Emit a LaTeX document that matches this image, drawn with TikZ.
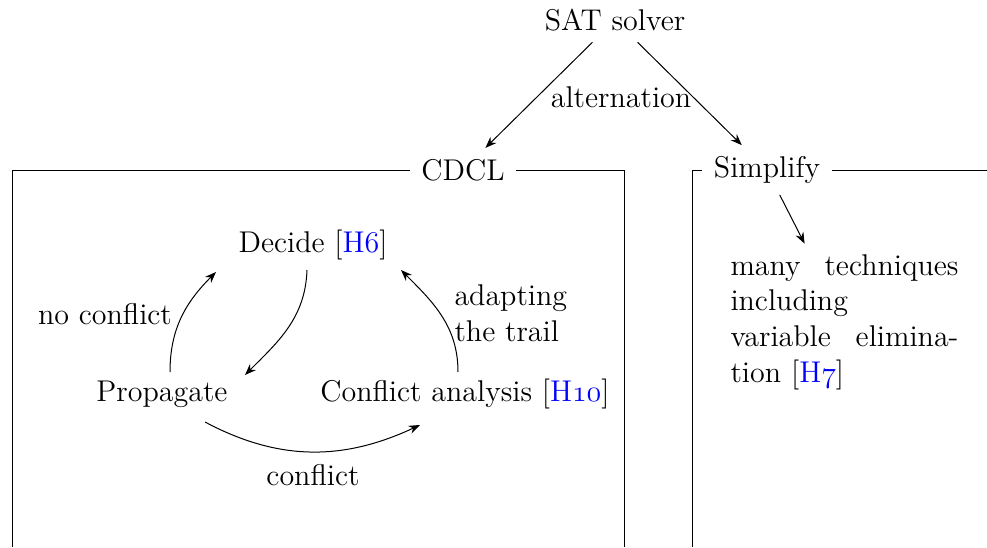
\documentclass[tikz,border=0pt]{standalone}
\usetikzlibrary{arrows.meta,calc}
\newcommand{\hr}[1]{\textcolor{blue}{H$\mathnormal{#1}$}}
\begin{document}
\begin{tikzpicture}[x=0.4pt,y=0.4pt,
  every node/.style={font=\fontsize{12}{14.3}\selectfont, inner sep=0pt},
  ttl/.style={inner xsep=4.5pt, inner ysep=4.3pt},
  txt/.style={inner sep=3pt},
  arr/.style={-{Stealth[length=4.5pt,width=3.4pt]}, thin},
  frame/.style={thin}]
\useasboundingbox (0,0) rectangle (987,-547);
% titles
\node[ttl] (sat) at (615,-20) {SAT solver};
\node[ttl] (cdcl) at (463,-170) {CDCL};
\node[ttl] (simp) at (767,-170) {Simplify};
% frames
\draw[frame] (cdcl.west) -- (12,-170) -- (12,-547);
\draw[frame] (cdcl.east) -- (624,-170) -- (624,-547);
\draw[frame] (simp.west) -- (692,-170) -- (692,-547);
\draw[frame] (simp.east) -- (987,-170);
% top arrows
\draw[arr] (sat) -- (cdcl);
\draw[arr] (sat) -- (simp);
\node (alt) at (621,-97) {alternation};
% simplify content
\node[inner sep=4pt, text width=91.2pt, align=left, anchor=west] (many) at (720,-322)
  {many\hfill techniques\\ including\\ variable\hfill elimina-\\ tion [\hr{7}]};
\draw[arr] (simp) -- (many);
% CDCL cycle
\node[txt] (dec) at (313,-245) {Decide [\hr{6}]};
\node[txt] (prop) at (162,-394) {Propagate};
\node[txt] (conf) at (465,-394) {Conflict analysis [\hr{10}]};
\draw[arr] ($(prop)+(8,22)$) to[out=90,in=225] ($(dec)+(-97,-27)$);
\draw[arr] ($(dec)+(-6,-25)$) to[out=-92,in=45] ($(prop)+(83,19)$);
\draw[arr] ($(conf)+(-7,22)$) to[out=90,in=-45] ($(dec)+(88,-25)$);
\draw[arr] ($(prop)+(43,-28)$) to[out=-28,in=205] ($(conf)+(-45,-31)$);
\node (nc) at (105,-314) {no conflict};
\node[align=left, anchor=west] (adapt) at (454,-313) {adapting\\the trail};
\node (cl) at (313,-475) {conflict};
\end{tikzpicture}
\end{document}
